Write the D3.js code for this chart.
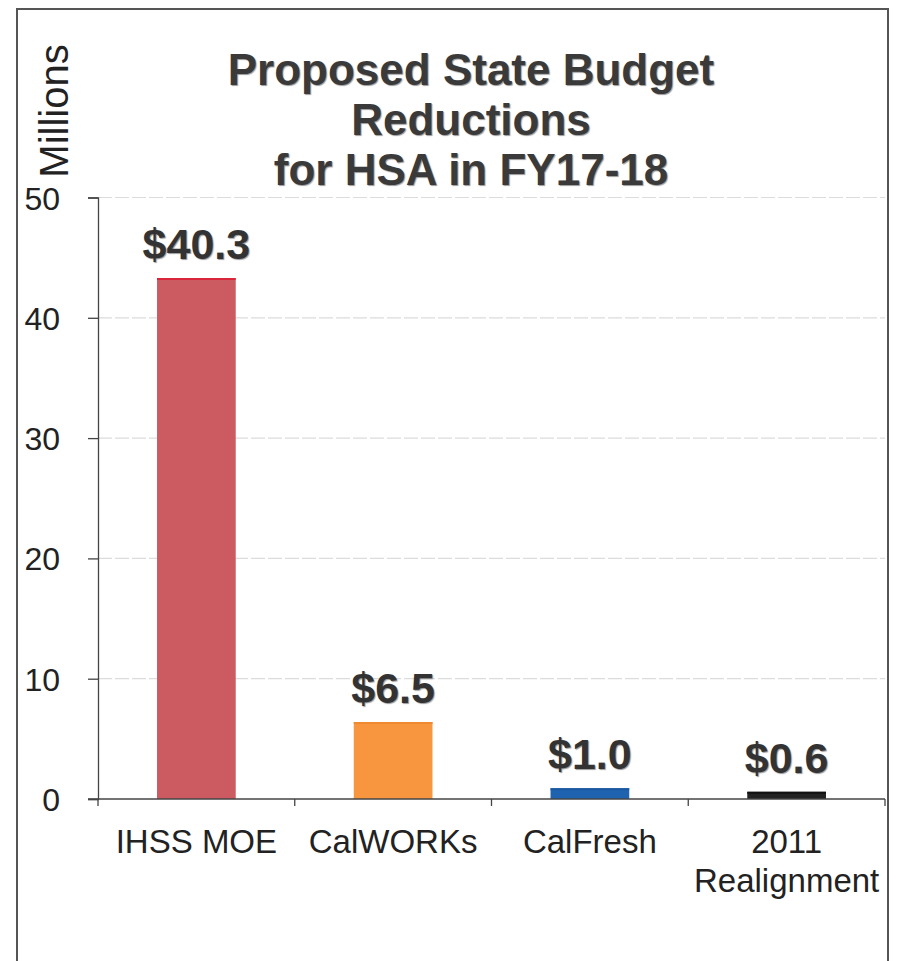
<!DOCTYPE html>
<html>
<head>
<meta charset="utf-8">
<script src="https://cdn.jsdelivr.net/npm/d3@7"></script>
<style>
  html, body { margin: 0; padding: 0; background: #fff; }
  svg { display: block; font-family: "Liberation Sans", Arial, sans-serif; }
</style>
</head>
<body>
<svg id="chart" width="900" height="961"></svg>
<script>
// ---- Data ----
const categories = ["IHSS MOE", "CalWORKs", "CalFresh", "2011 Realignment"];
const categoryLines = [["IHSS MOE"], ["CalWORKs"], ["CalFresh"], ["2011", "Realignment"]];
const barValues = [43.3, 6.4, 0.9, 0.6];           // bar heights as drawn (millions)
const valueLabels = ["$40.3", "$6.5", "$1.0", "$0.6"];
const barColors = ["#cc5a61", "#f7963f", "#1f63b0", "#222222"];
const barEdgeColors = ["#d9263a", "#f08a30", "#1a58a0", "#111111"];
const yTicks = [0, 10, 20, 30, 40, 50];
const titleLines = ["Proposed State Budget", "Reductions", "for HSA in FY17-18"];
const yAxisTitle = "Millions";

// ---- Layout ----
const svg = d3.select("#chart");
const plot = { left: 98, right: 885, top: 197.5, bottom: 799 };

const x = d3.scaleBand()
  .domain(categories)
  .range([plot.left, plot.right])
  .paddingInner(0.6)
  .paddingOuter(0.3);

const y = d3.scaleLinear()
  .domain([0, 50])
  .range([plot.bottom, plot.top]);

// Frame (scanned border)
svg.append("path")
  .attr("d", "M17,961 L17,9 L888,9 L888,961")
  .attr("fill", "none")
  .attr("stroke", "#555")
  .attr("stroke-width", 2);

// Gridlines
svg.append("g")
  .selectAll("line")
  .data(yTicks.filter(d => d > 0))
  .join("line")
  .attr("x1", plot.left)
  .attr("x2", plot.right)
  .attr("y1", d => y(d))
  .attr("y2", d => y(d))
  .attr("stroke", "#dcdcdc")
  .attr("stroke-width", 1.2)
  .attr("stroke-dasharray", "14,3");

// Y axis
const yAxis = svg.append("g")
  .attr("transform", `translate(${plot.left},0)`)
  .call(d3.axisLeft(y).tickValues(yTicks).tickSize(10).tickPadding(28).tickFormat(d3.format("d")));
yAxis.select(".domain").attr("stroke", "#444").attr("stroke-width", 1.3);
yAxis.selectAll(".tick line").attr("stroke", "#444").attr("stroke-width", 1.3);
yAxis.selectAll(".tick text")
  .attr("font-size", 32)
  .attr("fill", "#222")
  .attr("font-family", "Liberation Sans, Arial, sans-serif")
  .attr("dy", "0.36em");

// Bars
const bars = svg.append("g");
bars.selectAll("rect")
  .data(categories)
  .join("rect")
  .attr("x", d => x(d))
  .attr("width", x.bandwidth())
  .attr("y", (d, i) => y(barValues[i]))
  .attr("height", (d, i) => y(0) - y(barValues[i]))
  .attr("fill", (d, i) => barColors[i]);
// top edge accent
bars.selectAll("line")
  .data(categories)
  .join("line")
  .attr("x1", d => x(d))
  .attr("x2", d => x(d) + x.bandwidth())
  .attr("y1", (d, i) => y(barValues[i]) + 1)
  .attr("y2", (d, i) => y(barValues[i]) + 1)
  .attr("stroke", (d, i) => barEdgeColors[i])
  .attr("stroke-width", 2);

// X axis
const xAxisG = svg.append("g")
  .attr("transform", `translate(0,${plot.bottom})`);
xAxisG.append("line")
  .attr("x1", plot.left - 10)
  .attr("x2", plot.right)
  .attr("stroke", "#444")
  .attr("stroke-width", 1.5);
const step = x.step();
const boundaries = [plot.left].concat(categories.map(c => x(c) + x.bandwidth() / 2 + step / 2));
xAxisG.selectAll("line.tk")
  .data(boundaries)
  .join("line")
  .attr("class", "tk")
  .attr("x1", d => d)
  .attr("x2", d => d)
  .attr("y1", 0)
  .attr("y2", 7)
  .attr("stroke", "#444")
  .attr("stroke-width", 1.3);

// Category labels
const catG = svg.append("g");
categories.forEach((c, i) => {
  const t = catG.append("text")
    .attr("x", x(c) + x.bandwidth() / 2)
    .attr("y", 853)
    .attr("text-anchor", "middle")
    .attr("font-size", 33)
    .attr("fill", "#222");
  categoryLines[i].forEach((line, j) => {
    t.append("tspan")
      .attr("x", x(c) + x.bandwidth() / 2)
      .attr("dy", j === 0 ? 0 : 39)
      .text(line);
  });
});

// Value labels
svg.append("g")
  .selectAll("text")
  .data(categories)
  .join("text")
  .attr("x", d => x(d) + x.bandwidth() / 2)
  .attr("y", (d, i) => y(barValues[i]) - 19)
  .attr("text-anchor", "middle")
  .attr("font-size", 43)
  .attr("font-weight", "bold")
  .attr("fill", "#333")
  .style("text-shadow", "1px 1px 1px #999")
  .text((d, i) => valueLabels[i]);

// Title
const title = svg.append("text")
  .attr("x", 471)
  .attr("y", 85)
  .attr("text-anchor", "middle")
  .attr("font-size", 44)
  .attr("font-weight", "bold")
  .attr("fill", "#3a3a3a")
  .style("text-shadow", "1px 1px 1px #999");
titleLines.forEach((line, j) => {
  title.append("tspan")
    .attr("x", 471)
    .attr("dy", j === 0 ? 0 : 50)
    .text(line);
});

// Y axis title
svg.append("text")
  .attr("transform", "translate(68,111) rotate(-90)")
  .attr("text-anchor", "middle")
  .attr("font-size", 40)
  .attr("fill", "#222")
  .text(yAxisTitle);
</script>
</body>
</html>
